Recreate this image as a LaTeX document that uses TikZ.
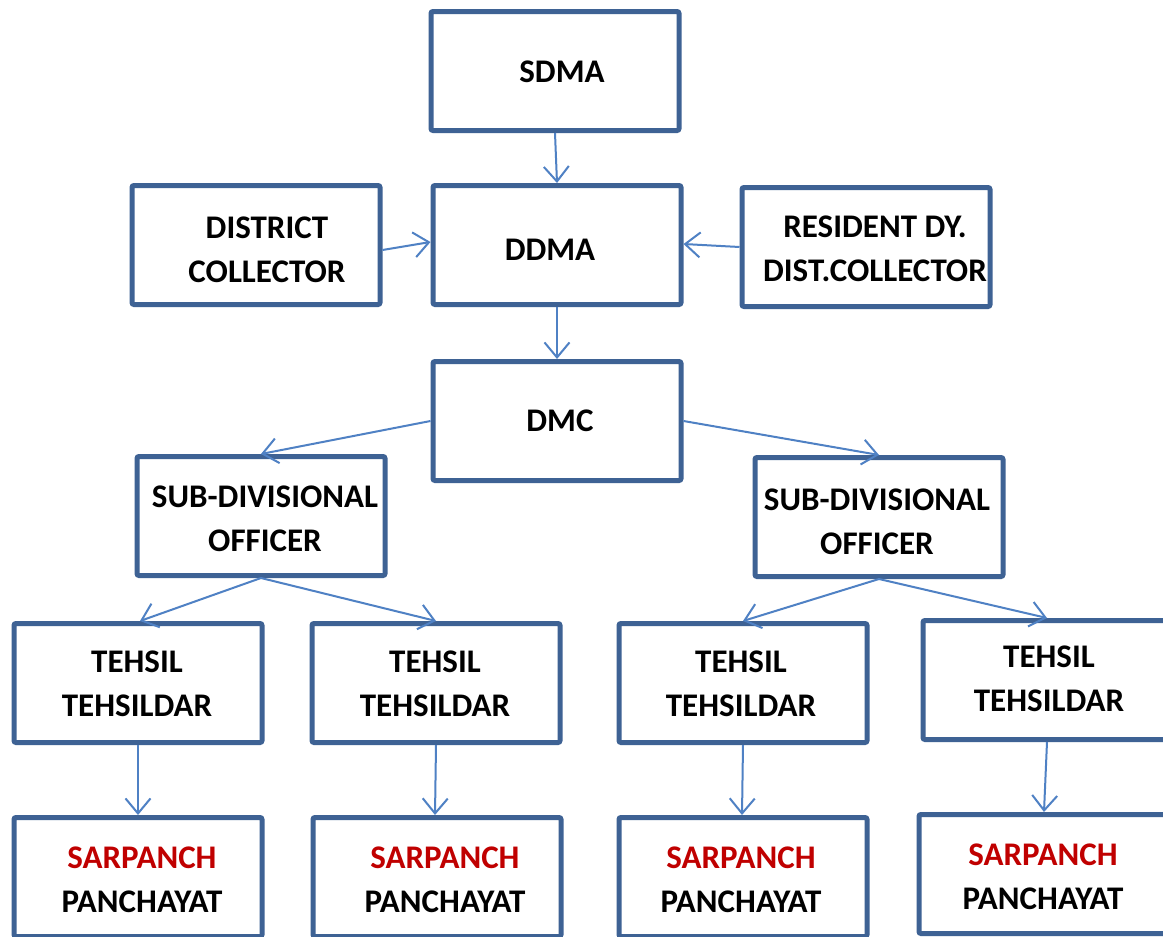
\documentclass[tikz,border=0pt]{standalone}
\usepackage{fontspec}
\setmainfont{Carlito}
\usetikzlibrary{arrows.meta}
\definecolor{boxblue}{RGB}{62,98,148}
\definecolor{arrblue}{RGB}{79,129,196}
\definecolor{sred}{RGB}{192,0,0}
\tikzset{
  orgbox/.style={draw=boxblue, line width=5pt, rounded corners=2pt, fill=white,
    minimum width=248pt, minimum height=119pt, inner sep=0pt},
  boxtext/.style={align=center, inner sep=0pt,
    font=\bfseries\fontsize{33}{44}\selectfont},
  conn/.style={draw=arrblue, line width=2pt, -{Straight Barb[length=15pt,width=25pt,line width=2pt]}}
}
\begin{document}
\begin{tikzpicture}[x=1pt,y=-1pt]
\clip (0,0) rectangle (1163,937);
\fill[white] (0,0) rectangle (1163,937);
% boxes
\node[orgbox] (sdma) at (555,71) {};
\node[orgbox] (ddma) at (557,245) {};
\node[orgbox] (dc) at (256,245) {};
\node[orgbox] (rdc) at (866,247) {};
\node[orgbox] (dmc) at (557,421) {};
\node[orgbox] (sdo1) at (261,516) {};
\node[orgbox] (sdo2) at (879,517) {};
\node[orgbox] (t1) at (138,683) {};
\node[orgbox] (t2) at (436,683) {};
\node[orgbox] (t3) at (743,683) {};
\node[orgbox] (t4) at (1047,680) {};
\node[orgbox] (s1) at (138,877) {};
\node[orgbox] (s2) at (437,877) {};
\node[orgbox] (s3) at (743,877) {};
\node[orgbox] (s4) at (1043,874) {};
% texts
\node[boxtext] (sdmat) at ([shift={(7,1)}]sdma.center) {SDMA};
\node[boxtext] (ddmat) at ([shift={(-7,5)}]ddma.center) {DDMA};
\node[boxtext] (dct) at ([shift={(11,4.5)}]dc.center) {DISTRICT\\COLLECTOR};
\node[boxtext] (rdct) at ([shift={(9,2)}]rdc.center) {RESIDENT DY.\\DIST.COLLECTOR};
\node[boxtext] (dmct) at ([shift={(3,0)}]dmc.center) {DMC};
\node[boxtext] (sdo1t) at ([shift={(4,3)}]sdo1.center) {SUB-DIVISIONAL\\OFFICER};
\node[boxtext] (sdo2t) at ([shift={(-2,5)}]sdo2.center) {SUB-DIVISIONAL\\OFFICER};
\node[boxtext] (t1t) at ([shift={(-1,1)}]t1.center) {TEHSIL\\TEHSILDAR};
\node[boxtext] (t2t) at ([shift={(-1,1)}]t2.center) {TEHSIL\\TEHSILDAR};
\node[boxtext] (t3t) at ([shift={(-2,1)}]t3.center) {TEHSIL\\TEHSILDAR};
\node[boxtext] (t4t) at ([shift={(2,-1)}]t4.center) {TEHSIL\\TEHSILDAR};
\node[boxtext] (s1t) at ([shift={(4,3)}]s1.center) {\textcolor{sred}{SARPANCH}\\PANCHAYAT};
\node[boxtext] (s2t) at ([shift={(8,3)}]s2.center) {\textcolor{sred}{SARPANCH}\\PANCHAYAT};
\node[boxtext] (s3t) at ([shift={(-2,3)}]s3.center) {\textcolor{sred}{SARPANCH}\\PANCHAYAT};
\node[boxtext] (s4t) at ([shift={(0,3)}]s4.center) {\textcolor{sred}{SARPANCH}\\PANCHAYAT};
% connectors
\path[conn] (sdma.south) -- (ddma.north);
\path[conn] (dc.east) ++(0,5) -- ([yshift=3pt]ddma.west);
\path[conn] (rdc.west) -- ([yshift=1pt]ddma.east);
\path[conn] (ddma.south) -- (dmc.north);
\path[conn] (dmc.west) -- (sdo1.north);
\path[conn] (dmc.east) -- (sdo2.north);
\path[conn] (sdo1.south) -- ([xshift=2pt]t1.north);
\path[conn] (sdo1.south) -- (t2.north);
\path[conn] (sdo2.south) -- (t3.north);
\path[conn] (sdo2.south) -- (t4.north);
\path[conn] (t1.south) -- (s1.north -| t1.south);
\path[conn] (t2.south) -- ([xshift=-2pt]s2.north);
\path[conn] (t3.south) -- ([xshift=-1pt]s3.north);
\path[conn] (t4.south) -- ([xshift=1pt]s4.north);
\end{tikzpicture}
\end{document}
